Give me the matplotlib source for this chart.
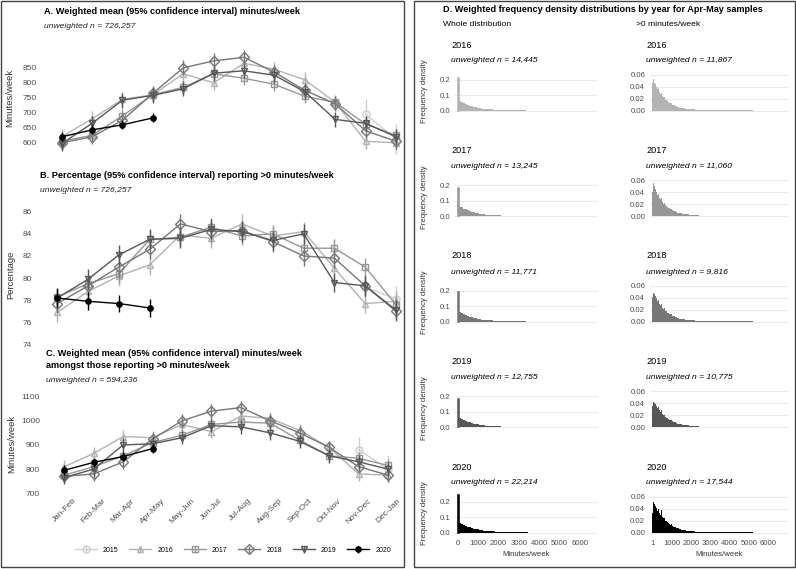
#!/usr/bin/env python
"""
Monthly physical activity by year (panels A-C) and Apr-May histograms (panel D)
"""

import numpy as np
import matplotlib
matplotlib.use("Agg")
import matplotlib.pyplot as plt
from matplotlib.patches import Rectangle

plt.rcParams["font.family"] = ["Liberation Sans", "DejaVu Sans"]

"""
---------- Data ----------
"""
months = ["Jan-Feb", "Feb-Mar", "Mar-Apr", "Apr-May", "May-Jun", "Jun-Jul",
          "Jul-Aug", "Aug-Sep", "Sep-Oct", "Oct-Nov", "Nov-Dec", "Dec-Jan"]
years = ["2015", "2016", "2017", "2018", "2019", "2020"]
nan = np.nan

# A. weighted mean minutes/week
mean_2015 = [nan] * 10 + [695, 612]
mean_2016 = [620, 680, 745, 760, 830, 800, 865, 845, 810, 735, 605, 600]
mean_2017 = [605, 625, 690, 760, 785, 830, 815, 795, 755, 735, 662, 625]
mean_2018 = [600, 620, 675, 765, 850, 873, 885, 835, 775, 730, 640, 605]
mean_2019 = [597, 665, 742, 758, 780, 832, 840, 825, 770, 678, 665, 620]
mean_2020 = [620, 643, 660, 683]
ci_a = [50, 25, 22, 25, 25, 15]

# B. percentage reporting >0 minutes/week
pct_2015 = [nan] * 10 + [79.2, 78.1]
pct_2016 = [76.9, 78.8, 80.2, 81.2, 83.9, 83.6, 84.9, 83.8, 84.2, 80.9, 77.7, 77.9]
pct_2017 = [78.3, 79.5, 80.4, 83.5, 83.7, 84.6, 83.8, 84.0, 82.7, 82.7, 81.0, 77.6]
pct_2018 = [77.7, 79.3, 81.0, 82.6, 84.9, 84.2, 84.3, 83.3, 82.0, 81.8, 79.3, 77.0]
pct_2019 = [78.2, 79.9, 82.1, 83.5, 83.6, 84.4, 84.2, 83.4, 84.0, 79.6, 79.3, 77.1]
pct_2020 = [78.2, 77.9, 77.7, 77.3]
ci_b = [1.2, 0.9, 0.8, 0.9, 0.9, 0.8]

# C. weighted mean amongst those reporting >0
pos_mean_2015 = [nan] * 10 + [880, 800]
pos_mean_2016 = [810, 865, 935, 930, 985, 955, 1020, 1010, 960, 890, 780, 775]
pos_mean_2017 = [775, 810, 855, 910, 940, 985, 995, 990, 920, 855, 845, 815]
pos_mean_2018 = [770, 780, 830, 925, 1000, 1040, 1055, 1000, 950, 890, 810, 775]
pos_mean_2019 = [765, 800, 900, 905, 930, 980, 975, 950, 915, 855, 830, 800]
pos_mean_2020 = [795, 828, 852, 885]
ci_c = [55, 28, 26, 28, 28, 20]

# D. Apr-May histograms
hist_years = ["2016", "2017", "2018", "2019", "2020"]
n_whole = ["14,445", "13,245", "11,771", "12,755", "22,214"]
n_pos = ["11,867", "11,060", "9,816", "10,775", "17,544"]
zero_spike = [0.22, 0.19, 0.20, 0.19, 0.25]

# whole distribution, 100 min/week bins after the zero spike
whole_2016 = [0.065, 0.056, 0.049, 0.043, 0.037, 0.032, 0.028, 0.025, 0.021, 0.019,
              0.016, 0.014, 0.013, 0.011, 0.010, 0.009, 0.008, 0.007, 0.006, 0.0055,
              0.005, 0.0045, 0.004, 0.0035, 0.003, 0.0028, 0.0025, 0.0022, 0.002, 0.0018,
              0.0016, 0.0015, 0.0013, 0.0012, 0.0011, 0.001, 0.0009, 0.0008, 0.0008, 0.0007,
              0.0006, 0.0006, 0.0005, 0.0005, 0.0004]
whole_2017 = [0.062, 0.058, 0.050, 0.044, 0.038, 0.033, 0.029, 0.025, 0.022, 0.019,
              0.017, 0.015, 0.013, 0.011, 0.010, 0.009, 0.008, 0.007, 0.0065, 0.0055,
              0.005, 0.0045, 0.004, 0.0036, 0.0032, 0.0028, 0.0025, 0.0022, 0.002, 0.0018,
              0.0016, 0.0015, 0.0013, 0.0012, 0.0011, 0.001, 0.0009, 0.0008, 0.0008, 0.0007,
              0.0006, 0.0006, 0.0005, 0.0005, 0.0004]
whole_2018 = [0.064, 0.055, 0.048, 0.043, 0.036, 0.032, 0.028, 0.024, 0.021, 0.018,
              0.016, 0.014, 0.012, 0.011, 0.010, 0.009, 0.008, 0.007, 0.006, 0.0055,
              0.005, 0.0045, 0.004, 0.0035, 0.003, 0.0028, 0.0025, 0.0022, 0.002, 0.0018,
              0.0016, 0.0015, 0.0013, 0.0012, 0.0011, 0.001, 0.0009, 0.0008, 0.0008, 0.0007,
              0.0006, 0.0006, 0.0005, 0.0005, 0.0004]
whole_2019 = [0.060, 0.054, 0.047, 0.042, 0.036, 0.031, 0.028, 0.024, 0.021, 0.018,
              0.016, 0.014, 0.012, 0.011, 0.010, 0.009, 0.008, 0.007, 0.006, 0.0055,
              0.005, 0.0045, 0.004, 0.0035, 0.003, 0.0028, 0.0025, 0.0022, 0.002, 0.0018,
              0.0016, 0.0015, 0.0013, 0.0012, 0.0011, 0.001, 0.0009, 0.0008, 0.0008, 0.0007,
              0.0006, 0.0006, 0.0005, 0.0005, 0.0004]
whole_2020 = [0.060, 0.058, 0.050, 0.045, 0.040, 0.035, 0.030, 0.027, 0.024, 0.021,
              0.018, 0.016, 0.014, 0.012, 0.011, 0.010, 0.009, 0.008, 0.007, 0.006,
              0.0055, 0.005, 0.0045, 0.004, 0.0035, 0.003, 0.0027, 0.0024, 0.0021, 0.0019,
              0.0017, 0.0015, 0.0014, 0.0013, 0.0012, 0.0011, 0.001, 0.0009, 0.0008, 0.0008,
              0.0007, 0.0006, 0.0006, 0.0005, 0.0005]

# >0 minutes/week, 50 min/week bins starting at 1
pos_2016 = [0.046, 0.053, 0.047, 0.044, 0.040, 0.036, 0.038, 0.031, 0.028, 0.030,
            0.024, 0.022, 0.023, 0.018, 0.017, 0.016, 0.014, 0.013, 0.012, 0.013,
            0.010, 0.009, 0.009, 0.008, 0.008, 0.007, 0.006, 0.006, 0.005, 0.005,
            0.005, 0.004, 0.004, 0.004, 0.003, 0.003, 0.003, 0.003, 0.002, 0.002,
            0.002, 0.002, 0.002, 0.002, 0.0015, 0.0015, 0.0012, 0.0012, 0.001, 0.001,
            0.001, 0.001, 0.0009, 0.0008, 0.0008, 0.0007, 0.0007, 0.0006, 0.0006, 0.0005]
pos_2017 = [0.040, 0.055, 0.050, 0.045, 0.041, 0.035, 0.037, 0.030, 0.029, 0.031,
            0.024, 0.021, 0.022, 0.018, 0.017, 0.015, 0.014, 0.013, 0.012, 0.012,
            0.010, 0.009, 0.009, 0.008, 0.007, 0.007, 0.006, 0.006, 0.005, 0.005,
            0.005, 0.004, 0.004, 0.004, 0.003, 0.003, 0.003, 0.003, 0.002, 0.002,
            0.002, 0.002, 0.002, 0.002, 0.0015, 0.0015, 0.0012, 0.0012, 0.001, 0.001,
            0.001, 0.001, 0.0009, 0.0008, 0.0008, 0.0007, 0.0007, 0.0006, 0.0006, 0.0005]
pos_2018 = [0.042, 0.048, 0.046, 0.043, 0.039, 0.035, 0.036, 0.030, 0.028, 0.029,
            0.023, 0.021, 0.022, 0.018, 0.017, 0.015, 0.014, 0.013, 0.012, 0.012,
            0.010, 0.009, 0.009, 0.008, 0.007, 0.007, 0.006, 0.006, 0.005, 0.005,
            0.005, 0.004, 0.004, 0.004, 0.003, 0.003, 0.003, 0.003, 0.002, 0.002,
            0.002, 0.002, 0.002, 0.002, 0.0015, 0.0015, 0.0012, 0.0012, 0.001, 0.001,
            0.001, 0.001, 0.0009, 0.0008, 0.0008, 0.0007, 0.0007, 0.0006, 0.0006, 0.0005]
pos_2019 = [0.036, 0.042, 0.040, 0.038, 0.035, 0.032, 0.034, 0.028, 0.026, 0.028,
            0.022, 0.020, 0.021, 0.017, 0.016, 0.015, 0.013, 0.012, 0.012, 0.012,
            0.010, 0.009, 0.009, 0.008, 0.007, 0.007, 0.006, 0.006, 0.005, 0.005,
            0.005, 0.004, 0.004, 0.004, 0.003, 0.003, 0.003, 0.003, 0.002, 0.002,
            0.002, 0.002, 0.002, 0.002, 0.0015, 0.0015, 0.0012, 0.0012, 0.001, 0.001,
            0.001, 0.001, 0.0009, 0.0008, 0.0008, 0.0007, 0.0007, 0.0006, 0.0006, 0.0005]
pos_2020 = [0.033, 0.051, 0.048, 0.045, 0.042, 0.037, 0.040, 0.033, 0.030, 0.038,
            0.026, 0.024, 0.025, 0.020, 0.019, 0.017, 0.016, 0.014, 0.013, 0.014,
            0.011, 0.010, 0.010, 0.009, 0.008, 0.008, 0.007, 0.007, 0.006, 0.006,
            0.005, 0.005, 0.004, 0.004, 0.004, 0.003, 0.003, 0.003, 0.003, 0.002,
            0.002, 0.002, 0.002, 0.002, 0.0018, 0.0016, 0.0014, 0.0013, 0.0012, 0.0011,
            0.001, 0.001, 0.0009, 0.0009, 0.0008, 0.0008, 0.0007, 0.0007, 0.0006, 0.0006]

# sparse far tails (100 min/week bins), same for every year
whole_tail = [0.0004, 0.0003, 0.0003, 0.0003, 0.0002, 0.0002, 0.0002, 0.0002, 0.0002, 0.0001]
pos_tail = [0.0005, 0.0005, 0.0005, 0.0004, 0.0004, 0.0004, 0.0004, 0.0003, 0.0003, 0.0003,
            0.0003, 0.0003, 0.0003, 0.0002, 0.0002, 0.0002, 0.0002, 0.0002, 0.0002, 0.0002,
            0.0002, 0.0002, 0.0001, 0.0001, 0.0001]

"""
---------- Styling ----------
"""
colours = ["#cfcfcf", "#b3b3b3", "#979797", "#777777", "#575757", "#000000"]
markers = ["o", "^", "s", "D", "v", "o"]
W, H = 796, 569
TICK_COL = "#4d4d4d"
LAB_COL = "#333333"


def box(l, t, r, b):
    """pixel box -> figure fraction rect"""
    return [l / W, 1 - b / H, (r - l) / W, (b - t) / H]


def ftext(x, y, s, **kw):
    kw.setdefault("va", "center")
    fig.text(x / W, 1 - y / H, s, **kw)


def clean(ax):
    for sp in ax.spines.values():
        sp.set_visible(False)
    ax.tick_params(length=0, colors=TICK_COL, labelsize=6)


def line_panel(rect, first_px, last_px, series, ci, ylim, yticks, ylabel, ylab_x):
    """rect in pixels; first_px/last_px = pixel x of Jan-Feb and Dec-Jan"""
    l, t, r, b = rect
    ax = fig.add_axes(box(l, t, r, b))
    step = (last_px - first_px) / 11
    ax.set_xlim(-(first_px - l) / step, 11 + (r - last_px) / step)
    handles = []
    for i, vals in enumerate(series):
        x = np.arange(len(vals))
        mfc = colours[i] if years[i] == "2020" else "none"
        ms = 3.8 if years[i] == "2020" else 5
        h = ax.errorbar(x, vals, yerr=ci[i], color=colours[i], marker=markers[i],
                        mfc=mfc, mec=colours[i], ms=ms, lw=1, elinewidth=1,
                        capsize=0, clip_on=False, zorder=3 + i)
        handles.append(h)
    ax.set_ylim(*ylim)
    ax.set_yticks(yticks)
    ax.set_xticks(range(12))
    ax.set_xticklabels([])
    clean(ax)
    ftext(ylab_x, (t + b) / 2, ylabel, rotation=90, ha="center", fontsize=6.8,
          color=LAB_COL)
    return ax, handles


"""
---------- Figure ----------
"""
fig = plt.figure(figsize=(W / 100, H / 100), dpi=100)

# panel borders
for (l, t, r, b) in [(1, 1, 404, 567), (414, 1, 795, 567)]:
    fig.patches.append(Rectangle((l / W, 1 - b / H), (r - l) / W, (b - t) / H,
                                 transform=fig.transFigure, fill=False,
                                 edgecolor="#444444", lw=1))

# A
ftext(44, 11, "A. Weighted mean (95% confidence interval) minutes/week",
      fontsize=6.6, fontweight="bold")
ftext(44, 27, "unweighted n = 726,257", fontsize=6.1, style="italic", color="#222222")
axA, handles = line_panel((42, 45, 402, 150), 61.7, 396,
                          [mean_2015, mean_2016, mean_2017, mean_2018, mean_2019, mean_2020],
                          ci_a, (576, 926), [600, 650, 700, 750, 800, 850],
                          "Minutes/week", 10)

# B
ftext(40, 175, "B. Percentage (95% confidence interval) reporting >0 minutes/week",
      fontsize=6.6, fontweight="bold")
ftext(40, 191, "unweighted n = 726,257", fontsize=6.1, style="italic", color="#222222")
axB, _ = line_panel((37, 200, 402, 350), 57.3, 396,
                    [pct_2015, pct_2016, pct_2017, pct_2018, pct_2019, pct_2020],
                    ci_b, (73.5, 87.06), [74, 76, 78, 80, 82, 84, 86],
                    "Percentage", 11)

# C
ftext(46, 353, "C. Weighted mean (95% confidence interval) minutes/week",
      fontsize=6.6, fontweight="bold")
ftext(46, 366, "amongst those reporting >0 minutes/week", fontsize=6.6, fontweight="bold")
ftext(46, 380, "unweighted n = 594,236", fontsize=6.1, style="italic", color="#222222")
axC, _ = line_panel((45, 388, 396, 500), 64.3, 388,
                    [pos_mean_2015, pos_mean_2016, pos_mean_2017, pos_mean_2018,
                     pos_mean_2019, pos_mean_2020],
                    ci_c, (672, 1136), [700, 800, 900, 1000, 1100],
                    "Minutes/week", 12)
axC.set_xticklabels(months, rotation=45, ha="center", fontsize=6)
axC.tick_params(axis="x", pad=-2)

fig.legend(handles, years, ncol=6, loc="center", bbox_to_anchor=(233 / W, 1 - 550 / H),
           frameon=False, fontsize=5, handlelength=3.2, columnspacing=1.5,
           handletextpad=0.9)

# D
ftext(443, 10, "D. Weighted frequency density distributions by year for Apr-May samples",
      fontsize=6.6, fontweight="bold")
ftext(443, 25, "Whole distribution", fontsize=6.1)
ftext(636, 25, ">0 minutes/week", fontsize=6.1)

whole_lists = [whole_2016, whole_2017, whole_2018, whole_2019, whole_2020]
pos_lists = [pos_2016, pos_2017, pos_2018, pos_2019, pos_2020]
row_step = 105.5
for r, yr in enumerate(hist_years):
    col = colours[r + 1]
    y0 = r * row_step
    ftext(451, 45 + y0, yr, fontsize=6.6)
    ftext(451, 61 + y0, "unweighted n = " + n_whole[r], fontsize=6.1, style="italic")
    ftext(646, 45 + y0, yr, fontsize=6.6)
    ftext(646, 61 + y0, "unweighted n = " + n_pos[r], fontsize=6.1, style="italic")

    # whole distribution
    ax = fig.add_axes(box(455, 70 + y0, 598, 113 + y0))
    heights = whole_lists[r] + whole_tail
    edges = np.arange(len(heights)) * 100 + 30
    ax.bar(edges, heights, width=100, align="edge", color=col, lw=0)
    ax.bar([0], [zero_spike[r]], width=70, color=col, edgecolor=col, lw=0.4)
    ax.set_xlim(-150, 6900)
    ax.set_ylim(-0.015, 0.265)
    ax.set_yticks([0.0, 0.1, 0.2])
    ax.set_yticklabels(["0.0", "0.1", "0.2"])
    ax.yaxis.grid(True, color="#ebebeb", lw=0.8)
    ax.set_axisbelow(True)
    clean(ax)
    ax.tick_params(labelsize=5.6)
    ftext(425, 91.5 + y0, "Frequency density", rotation=90, ha="center",
          fontsize=5.6, color=LAB_COL)

    # >0 minutes/week
    ax2 = fig.add_axes(box(650, 70 + y0, 788, 113 + y0))
    edges2 = np.arange(len(pos_lists[r])) * 50 + 1
    ax2.bar(edges2, pos_lists[r], width=50, align="edge", color=col, lw=0)
    tail_edges = np.arange(len(pos_tail)) * 100 + edges2[-1] + 50
    ax2.bar(tail_edges, pos_tail, width=100, align="edge", color=col, lw=0)
    ax2.set_xlim(-118, 7017)
    ax2.set_ylim(-0.004, 0.068)
    ax2.set_yticks([0.0, 0.02, 0.04, 0.06])
    ax2.set_yticklabels(["0.00", "0.02", "0.04", "0.06"])
    ax2.yaxis.grid(True, color="#ebebeb", lw=0.8)
    ax2.set_axisbelow(True)
    clean(ax2)
    ax2.tick_params(labelsize=5.6)

    if r == len(hist_years) - 1:
        ax.set_xticks([0, 1000, 2000, 3000, 4000, 5000, 6000])
        ax.set_xlabel("Minutes/week", fontsize=5.6, color=LAB_COL, labelpad=3)
        ax2.set_xticks([1, 1000, 2000, 3000, 4000, 5000, 6000])
        ax2.set_xlabel("Minutes/week", fontsize=5.6, color=LAB_COL, labelpad=3)
    else:
        ax.set_xticks([])
        ax2.set_xticks([])

fig.savefig("out.png", dpi=100)
